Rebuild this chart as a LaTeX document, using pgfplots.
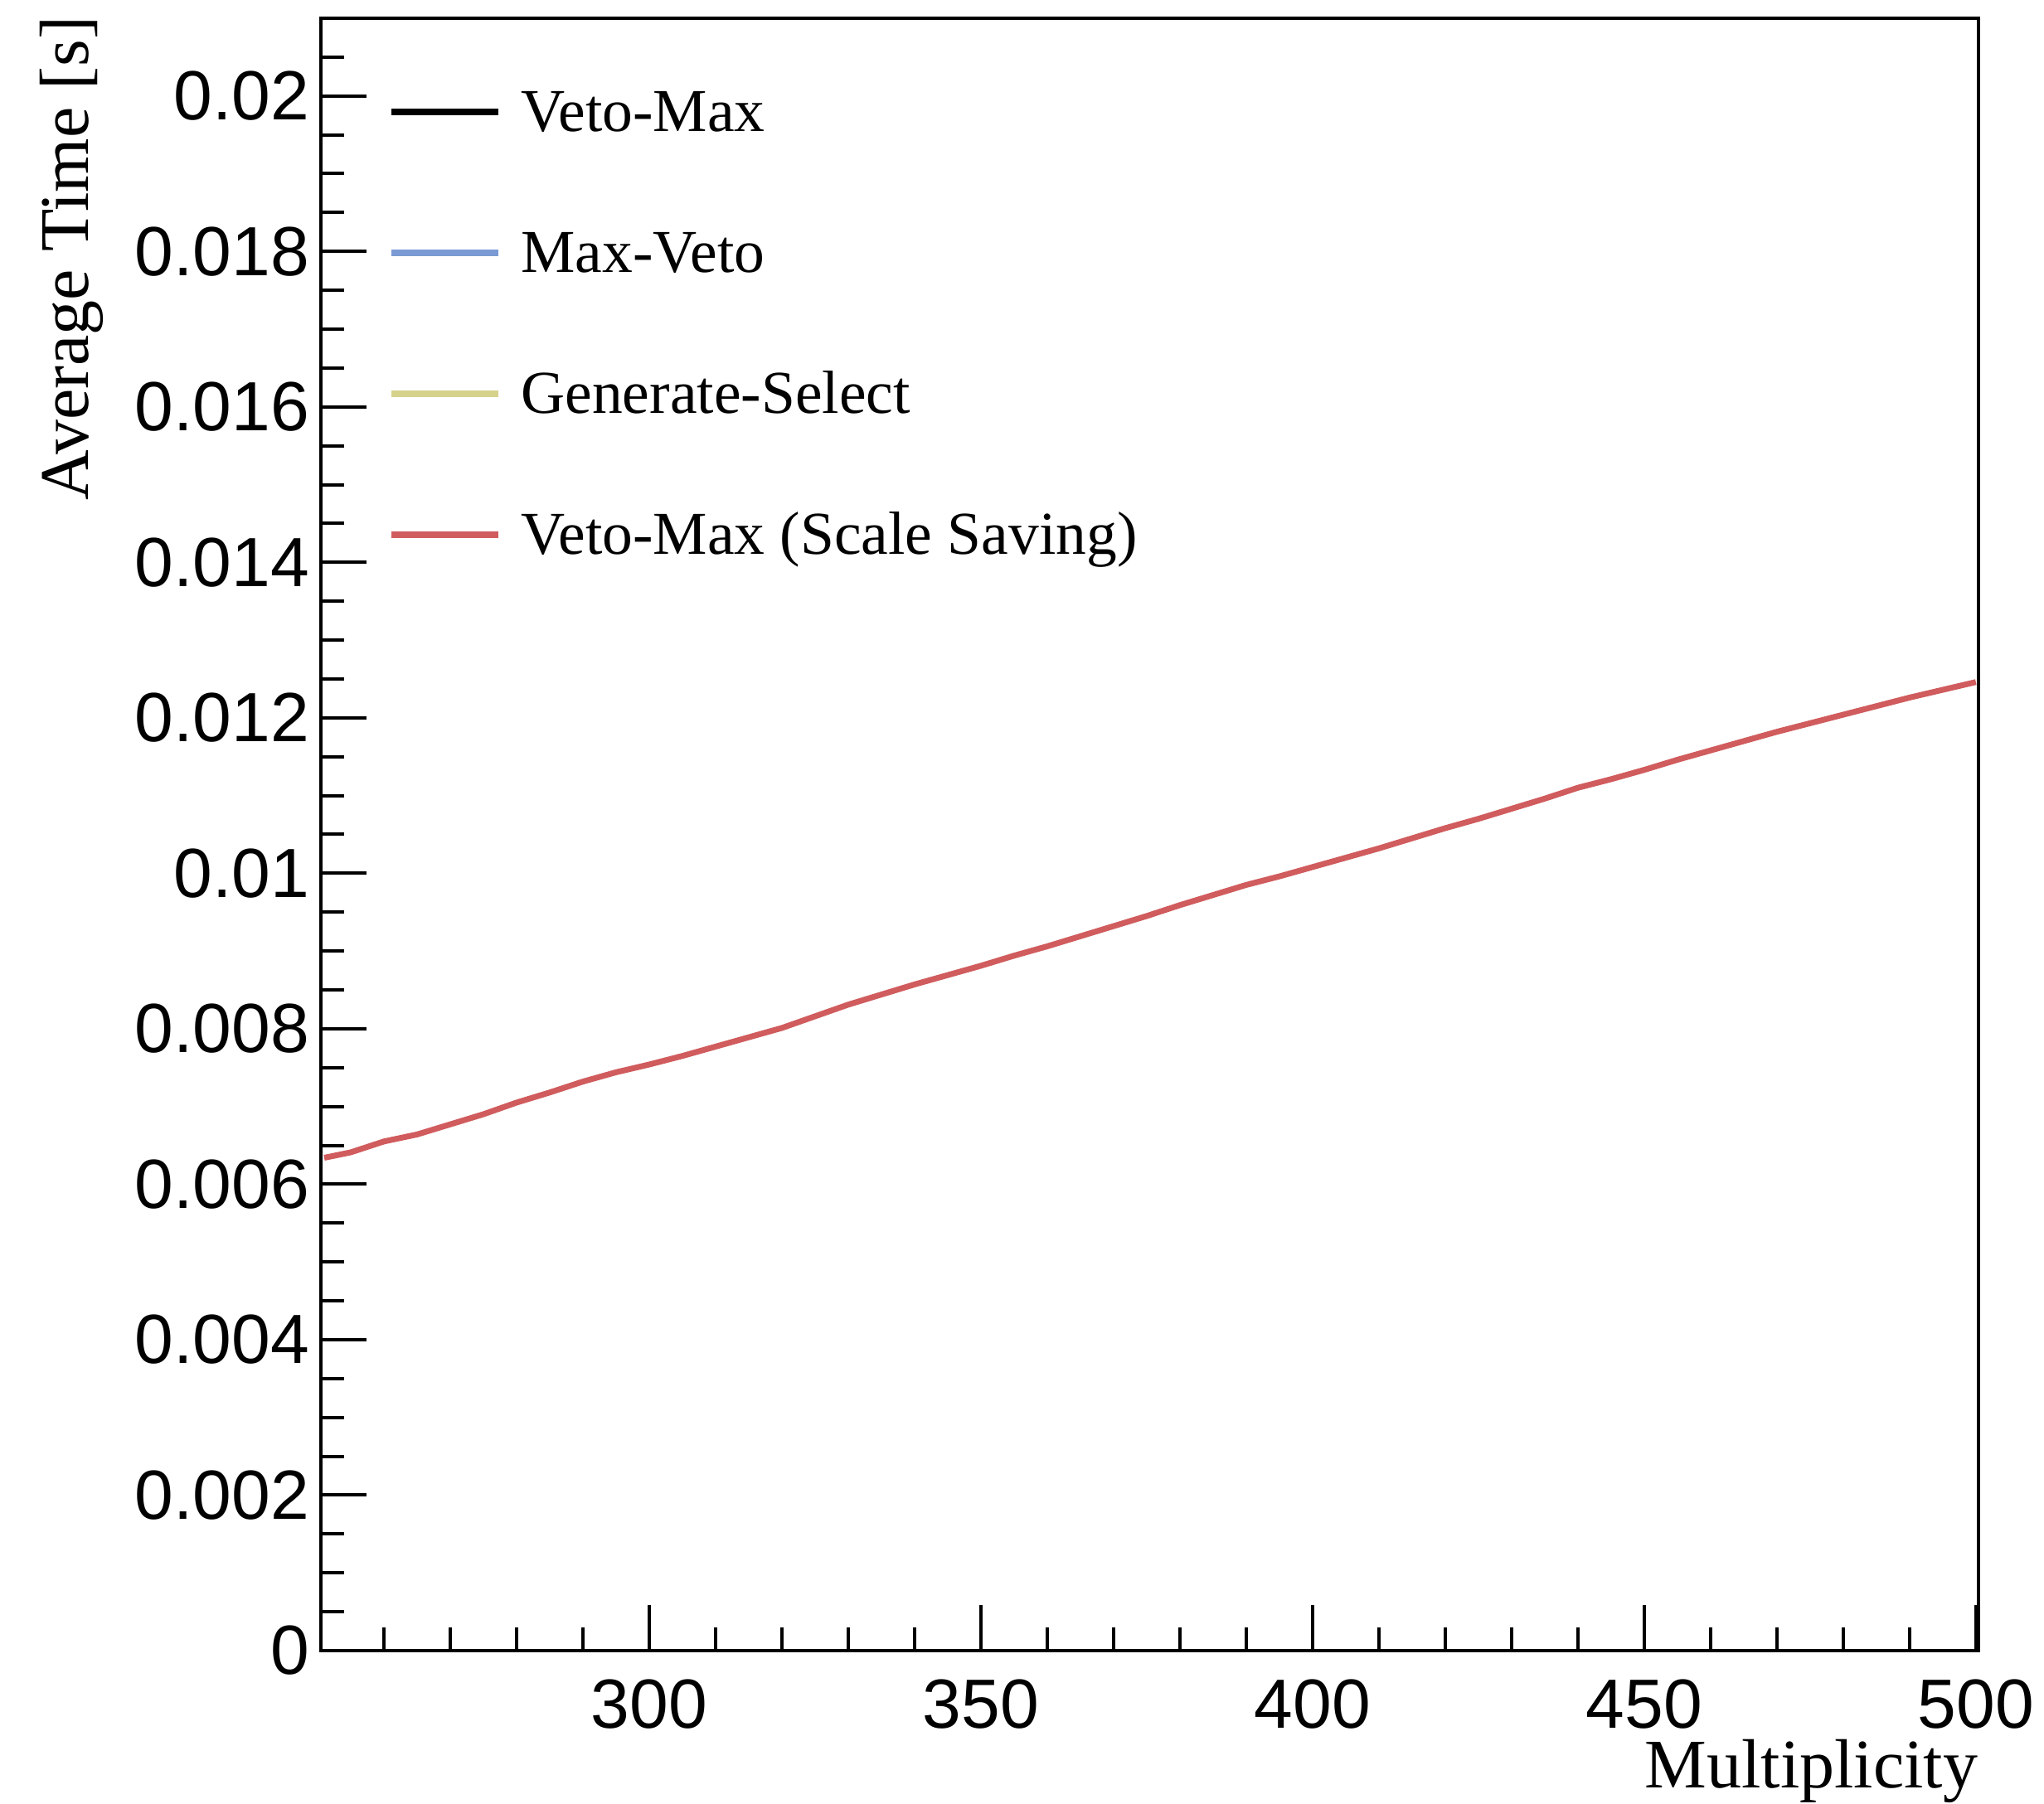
\documentclass[border=0pt]{standalone}
\usepackage{fontspec}
\setmainfont{Liberation Serif}
\newfontfamily\helv{Liberation Sans}
\usepackage{pgfplots}
\pgfplotsset{compat=1.18}
\definecolor{rred}{RGB}{208,92,94}
\definecolor{rblue}{RGB}{122,154,212}
\definecolor{ryel}{RGB}{214,210,140}
\begin{document}
\begin{tikzpicture}
\begin{axis}[
  scale only axis, width=399.8pt, height=393.8pt,
  xmin=250.5, xmax=500.4, ymin=0, ymax=0.021,
  clip=false,
  xtick={300,350,400,450,500}, xticklabels={300,350,400,450,500},
  minor xtick={260,270,280,290,310,320,330,340,360,370,380,390,410,420,430,440,460,470,480,490},
  ytick={0,0.002,0.004,0.006,0.008,0.01,0.012,0.014,0.016,0.018,0.02},
  yticklabels={0,0.002,0.004,0.006,0.008,0.01,0.012,0.014,0.016,0.018,0.02},
  minor ytick={0.0005,0.001,0.0015,0.0025,0.003,0.0035,0.0045,0.005,0.0055,0.0065,0.007,0.0075,0.0085,0.009,0.0095,0.0105,0.011,0.0115,0.0125,0.013,0.0135,0.0145,0.015,0.0155,0.0165,0.017,0.0175,0.0185,0.019,0.0195,0.0205},
  xtick pos=bottom, ytick pos=left, tick align=inside,
  major tick length=11pt, minor tick length=5.6pt,
  tick style={black, line width=0.8pt},
  axis line style={line width=0.9pt},
  scaled y ticks=false, scaled x ticks=false,
  /pgf/number format/assume math mode=true,
  ticklabel style={font=\helv\fontsize{16.8}{18}\selectfont},
  xticklabel style={anchor=north, inner sep=0pt, yshift=-6.8pt},
  yticklabel style={anchor=east, inner sep=0pt, xshift=-2.6pt},
  legend image code/.code={\draw[#1] (0pt,1pt) -- (25.8pt,1pt);},
  legend style={at={(rel axis cs:0,1)}, anchor=north west, xshift=16.2pt, yshift=-16.3pt,
    draw=none, fill=none, inner sep=0pt, outer sep=0pt,
    font=\fontsize{14.7}{16}\selectfont,
    nodes={inner sep=0pt, text height=11pt, text depth=3.5pt},
    row sep=19.5pt, column sep=4.7pt},
  legend cell align=left,
]
\addlegendimage{black, line width=1.6pt}
\addlegendentry{Veto-Max}
\addlegendimage{rblue, line width=1.6pt}
\addlegendentry{Max-Veto}
\addlegendimage{ryel, line width=1.6pt}
\addlegendentry{Generate-Select}
\addplot[rred, line width=1.4pt, legend image post style={line width=1.6pt}] coordinates {
(251,0.00634) (255,0.00641) (260,0.00655) (265,0.00664) (270,0.00677)
(275,0.00690) (280,0.00705) (285,0.00718) (290,0.00732) (295,0.00744)
(300,0.00754) (305,0.00765) (310,0.00777) (315,0.00789) (320,0.00801)
(325,0.00816) (330,0.00831) (335,0.00844) (340,0.00857) (345,0.00869)
(350,0.00881) (355,0.00894) (360,0.00906) (365,0.00919) (370,0.00932)
(375,0.00945) (380,0.00959) (385,0.00972) (390,0.00985) (395,0.00996)
(400,0.01008) (405,0.01020) (410,0.01032) (415,0.01045) (420,0.01058)
(425,0.01070) (430,0.01083) (435,0.01096) (440,0.01110) (445,0.01121)
(450,0.01133) (455,0.01146) (460,0.01158) (465,0.01170) (470,0.01182)
(475,0.01193) (480,0.01204) (485,0.01215) (490,0.01226) (495,0.01236)
(500,0.01246)
};
\addlegendentry{Veto-Max (Scale Saving)}
\coordinate (SW) at (rel axis cs:0,0);
\coordinate (NE) at (rel axis cs:1,1);
\coordinate (NW) at (rel axis cs:0,1);
\coordinate (SE) at (rel axis cs:1,0);
\end{axis}
\node[font=\fontsize{16.8}{18}\selectfont, anchor=base east, inner sep=0pt] at ([yshift=-33.2pt]SE) {Multiplicity};
\node[font=\fontsize{16.8}{18}\selectfont, rotate=90, anchor=base east, inner sep=0pt] at ([xshift=-56pt,yshift=0.6pt]NW) {Average Time [s]};
\pgfresetboundingbox
\path[use as bounding box] ([xshift=-77.4pt,yshift=-37pt]SW) rectangle ([xshift=15.8pt,yshift=4.4pt]NE);
\end{tikzpicture}
\end{document}
